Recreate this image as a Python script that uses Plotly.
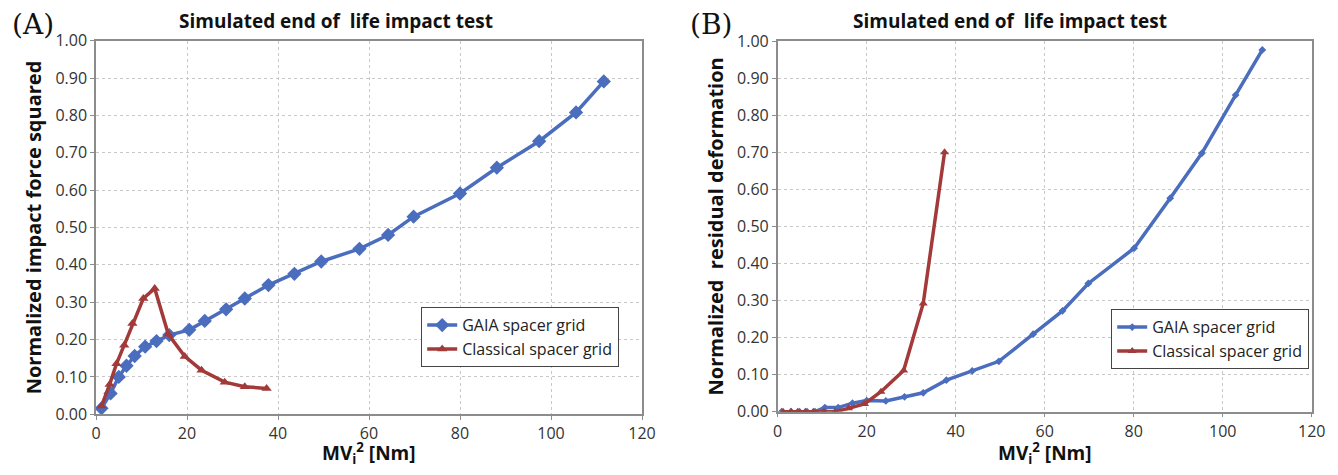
import plotly.graph_objects as go

# ---- data ----
gaia_x = [1.2, 3.2, 5.0, 6.7, 8.5, 10.8, 13.3, 16.1, 20.5, 23.9, 28.6, 32.7, 37.9,
          43.6, 49.5, 57.9, 64.2, 69.8, 80.0, 88.1, 97.4, 105.5, 111.6]
gaia_force = [0.016, 0.056, 0.10, 0.13, 0.156, 0.181, 0.196, 0.212, 0.226, 0.25, 0.281,
              0.31, 0.346, 0.376, 0.409, 0.443, 0.48, 0.529, 0.591, 0.66, 0.731, 0.808, 0.891]

classic_x = [1.2, 3.0, 4.5, 6.2, 8.0, 10.4, 12.9, 15.9, 19.5, 23.2, 28.3, 32.7, 37.5]
classic_force = [0.022, 0.08, 0.135, 0.185, 0.243, 0.31, 0.337, 0.214, 0.155, 0.118,
                 0.086, 0.074, 0.069]

gaia_x_b = [0.9, 3.0, 4.9, 6.6, 8.4, 10.6, 13.6, 16.8, 20.0, 24.3, 28.5, 32.7, 37.9,
            43.7, 49.7, 57.4, 64.0, 69.8, 80.1, 88.2, 95.3, 102.9, 108.9]
gaia_def = [0.0, 0.0, 0.0, 0.0, 0.0, 0.011, 0.011, 0.023, 0.03, 0.029, 0.04, 0.051,
            0.085, 0.11, 0.136, 0.209, 0.272, 0.346, 0.441, 0.576, 0.697, 0.854, 0.976]
classic_def = [0.0, 0.0, 0.0, 0.0, 0.0, 0.0, 0.0, 0.009, 0.021, 0.054, 0.111, 0.292, 0.70]

x_ticks = [0, 20, 40, 60, 80, 100, 120]
title_txt = "Simulated end of  life impact test"
x_title = "MV<sub>i</sub><sup>2</sup> [Nm]"
y_title_a = "Normalized impact force squared"
y_title_b = "Normalized  residual deformation"

BLUE = "#4A6DBE"
RED = "#A33A3A"

# page body has an 8px margin; figure is sized to fit the 1338x475 window
OFF = 8
W, H = 1338 - 2 * OFF, 475 - 2 * OFF


def px(x):
    return (x - OFF) / W


def py(y):
    return 1 - (y - OFF) / H


fig = go.Figure()
fig.add_trace(go.Scatter(x=gaia_x, y=gaia_force, mode="lines+markers", name="GAIA spacer grid",
                         line=dict(color=BLUE, width=3.5),
                         marker=dict(symbol="diamond", size=11, color=BLUE),
                         xaxis="x", yaxis="y", legend="legend"))
fig.add_trace(go.Scatter(x=classic_x, y=classic_force, mode="lines+markers", name="Classical spacer grid",
                         line=dict(color=RED, width=3.5),
                         marker=dict(symbol="triangle-up", size=9, color=RED),
                         xaxis="x", yaxis="y", legend="legend"))
fig.add_trace(go.Scatter(x=gaia_x_b, y=gaia_def, mode="lines+markers", name="GAIA spacer grid",
                         line=dict(color=BLUE, width=3.5),
                         marker=dict(symbol="diamond", size=6, color=BLUE),
                         xaxis="x2", yaxis="y2", legend="legend2"))
fig.add_trace(go.Scatter(x=classic_x, y=classic_def, mode="lines+markers", name="Classical spacer grid",
                         line=dict(color=RED, width=3.5),
                         marker=dict(symbol="triangle-up", size=8, color=RED),
                         xaxis="x2", yaxis="y2", legend="legend2"))

font_main = "Open Sans, Lato, Arial, sans-serif"
axis_common = dict(showline=True, linecolor="#8c8c8c", linewidth=1.5, mirror=True,
                   showgrid=True, gridcolor="#c8c8c8", griddash="dot", gridwidth=1,
                   zeroline=False, ticks="outside", ticklen=4, tickcolor="#8c8c8c",
                   automargin=False,
                   tickfont=dict(size=16, color="#333333", family=font_main))

fig.update_layout(
    width=W, height=H,
    margin=dict(l=0, r=0, t=0, b=0, autoexpand=False),
    paper_bgcolor="white", plot_bgcolor="white",
    font=dict(family=font_main, color="#111111"),
    xaxis=dict(domain=[px(96), px(642)], range=[0, 120], tickvals=x_ticks, anchor="y", **axis_common),
    yaxis=dict(domain=[py(414.3), py(40.7)], range=[0, 1], dtick=0.1, tickformat=".2f", anchor="x",
               title=dict(text=y_title_a, font=dict(size=20, weight="bold"), standoff=8), **axis_common),
    xaxis2=dict(domain=[px(777.7), px(1311.7)], range=[0, 120], tickvals=x_ticks, anchor="y2", **axis_common),
    yaxis2=dict(domain=[py(411.7), py(41)], range=[0, 1], dtick=0.1, tickformat=".2f", anchor="x2",
                title=dict(text=y_title_b, font=dict(size=20, weight="bold"), standoff=8), **axis_common),
    legend=dict(x=px(421), y=py(307), xanchor="left", yanchor="top",
                bordercolor="#444444", borderwidth=1.2, bgcolor="white",
                font=dict(size=16, family=font_main, color="#222222"),
                tracegroupgap=6, itemwidth=30),
    legend2=dict(x=px(1111), y=py(309), xanchor="left", yanchor="top",
                 bordercolor="#444444", borderwidth=1.2, bgcolor="white",
                 font=dict(size=16, family=font_main, color="#222222"),
                 tracegroupgap=6, itemwidth=30),
    showlegend=True,
)

# x-axis titles (as annotations, for exact placement)
for cx in [(96 + 642) / 2, (777.7 + 1311.7) / 2]:
    fig.add_annotation(text="<b>" + x_title + "</b>", x=px(cx), y=py(453),
                       xref="paper", yref="paper", showarrow=False, xanchor="center", yanchor="middle",
                       font=dict(size=19, family=font_main, color="#111111"))

fig.add_annotation(text="<b>" + title_txt + "</b>", x=px(336), y=py(21),
                   xref="paper", yref="paper", showarrow=False, xanchor="center", yanchor="middle",
                   font=dict(size=19, family=font_main, color="#111111"))
fig.add_annotation(text="<b>" + title_txt + "</b>", x=px(1010), y=py(21),
                   xref="paper", yref="paper", showarrow=False, xanchor="center", yanchor="middle",
                   font=dict(size=19, family=font_main, color="#111111"))
fig.add_annotation(text="(A)", x=px(10), y=py(25), xref="paper", yref="paper", showarrow=False,
                   xanchor="left", yanchor="middle",
                   font=dict(size=28, family="DejaVu Serif, Liberation Serif, serif", color="#111111"))
fig.add_annotation(text="(B)", x=px(688), y=py(25), xref="paper", yref="paper", showarrow=False,
                   xanchor="left", yanchor="middle",
                   font=dict(size=28, family="DejaVu Serif, Liberation Serif, serif", color="#111111"))

fig.write_html("out.html")
